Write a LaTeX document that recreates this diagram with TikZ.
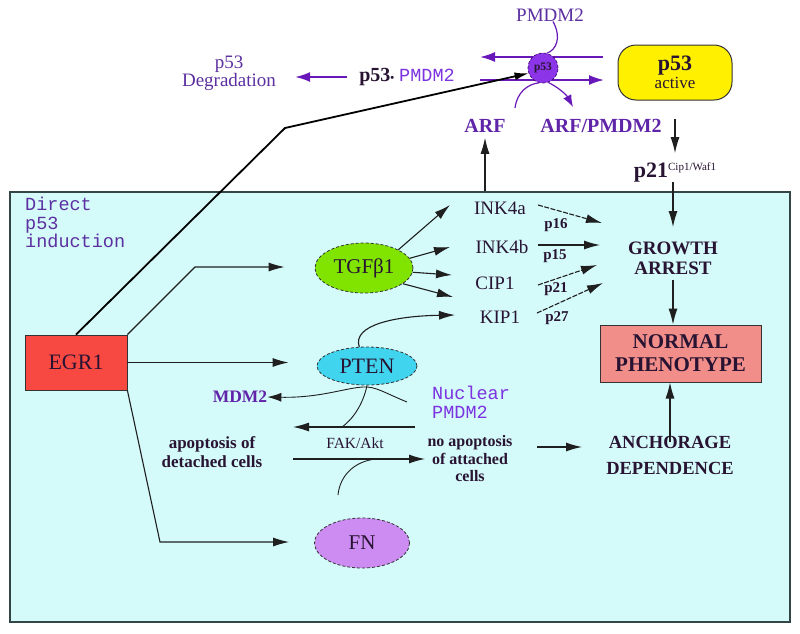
\documentclass[tikz,border=0pt]{standalone}
\usepackage{fontspec}
\setmainfont{Liberation Serif}
\setmonofont{Liberation Mono}
\usetikzlibrary{arrows.meta,shapes.geometric}
\definecolor{boxfill}{RGB}{212,250,250}
\definecolor{boxline}{RGB}{50,70,70}
\definecolor{egrred}{RGB}{248,72,66}
\definecolor{tgfgreen}{RGB}{128,228,0}
\definecolor{ptencyan}{RGB}{64,212,238}
\definecolor{fnviolet}{RGB}{204,140,242}
\definecolor{normalpink}{RGB}{242,142,138}
\definecolor{activeyellow}{RGB}{255,240,0}
\definecolor{txtpurple}{RGB}{92,48,160}
\definecolor{vivid}{RGB}{124,52,224}
\definecolor{boldpurple}{RGB}{96,36,168}
\definecolor{lnpurple}{RGB}{104,24,184}
\definecolor{circfill}{RGB}{140,52,232}
\definecolor{darkink}{RGB}{40,20,50}
\newcommand\fsz[2]{\fontsize{#1pt}{#2pt}\selectfont}
\begin{document}
\begin{tikzpicture}[x=1pt,y=-1pt,
  ln/.style={draw=black!88,line width=1.1pt},
  arr/.style={ln,-{Latex[length=16pt,width=9pt]}},
  darr/.style={arr,dash pattern=on 5pt off 1.5pt},
  parr/.style={draw=lnpurple,line width=1.7pt,-{Latex[length=15pt,width=10pt]}},
  pln/.style={draw=lnpurple,line width=1.2pt},
  lbl/.style={inner sep=0pt,align=center,text=darkink},
  ell/.style={ellipse,draw=black!80,line width=0.8pt,densely dashed,inner sep=0pt,text=darkink},
]
\useasboundingbox (0,0) rectangle (800,633);
\fill[white] (0,0) rectangle (800,633);
% main box
\node[draw=boxline,line width=1.4pt,fill=boxfill,minimum width=780pt,minimum height=430pt,inner sep=0pt] (box) at (400,407) {};
\node[lbl,anchor=north west,align=left,text=txtpurple,font={\ttfamily\fsz{18.5}{18.5}}] (direct) at (25,197) {Direct\\p53\\induction};

% main nodes
\node[draw=black!80,line width=0.8pt,fill=egrred,minimum width=102pt,minimum height=55pt,font=\fsz{22}{24},text=darkink] (egr) at (76,362.5) {EGR1};
\node[ell,fill=tgfgreen,minimum width=98pt,minimum height=50pt,font=\fsz{21}{23}] (tgf) at (364,268) {TGFβ1};
\node[ell,fill=ptencyan,minimum width=100pt,minimum height=38pt,font=\fsz{22}{24}] (pten) at (367,366) {PTEN};
\node[ell,fill=fnviolet,minimum width=95pt,minimum height=50pt,font=\fsz{21}{23}] (fn) at (362,543) {FN};

\node[lbl,font=\fsz{19}{21}] (ink4a) at (500,208) {INK4a};
\node[lbl,font=\fsz{19}{21}] (ink4b) at (502,247) {INK4b};
\node[lbl,font=\fsz{19}{21}] (cip1) at (495,283) {CIP1};
\node[lbl,font=\fsz{19}{21}] (kip1) at (500,317) {KIP1};
\node[lbl,font={\bfseries\fsz{15}{16}}] (p16) at (556,225) {p16};
\node[lbl,font={\bfseries\fsz{15}{16}}] (p15) at (555,256) {p15};
\node[lbl,font={\bfseries\fsz{15}{16}}] (p21s) at (556,289) {p21};
\node[lbl,font={\bfseries\fsz{15}{16}}] (p27) at (557,318) {p27};

\node[lbl,font={\bfseries\fsz{19}{20}}] (growth) at (673,258) {GROWTH\\ARREST};
\node[draw=black!80,line width=1pt,fill=normalpink,minimum width=161pt,minimum height=57pt,align=center,font={\bfseries\fsz{21}{23}},text=darkink] (normal) at (680.5,353.5) {NORMAL\\PHENOTYPE};
\node[lbl,font={\bfseries\fsz{18.5}{26}}] (anch) at (670,455) {ANCHORAGE\\DEPENDENCE};

\node[lbl,text=boldpurple,font={\bfseries\fsz{17.5}{19}}] (mdm2) at (240,397) {MDM2};
\node[lbl,anchor=west,align=left,text=vivid,font={\ttfamily\fsz{18.5}{19}}] (nuc) at (432,402.5) {Nuclear\\PMDM2};
\node[lbl,font={\bfseries\fsz{17}{19}}] (apopdet) at (212,452) {apoptosis of\\detached cells};
\node[lbl,font={\bfseries\fsz{16}{17.5}}] (noapop) at (470,459) {no apoptosis\\of attached\\cells};
\node[lbl,font=\fsz{15.5}{17}] (fak) at (355,443) {FAK/Akt};

% top nodes
\node[lbl,text=txtpurple,font=\fsz{19}{17}] (degr) at (229,73) {p53\\Degradation};
\node[lbl,font=\fsz{20}{22}] (p53pm) at (407,77) {{\color{darkink}\bfseries p53{\fsz{11}{11}•}}\hspace{5pt}{\color{vivid}\ttfamily\fsz{18.5}{20}PMDM2}};
\node[lbl,text=txtpurple,font=\fsz{19}{21}] (pmdmtop) at (550,15) {PMDM2};
\node[lbl,text=boldpurple,font={\bfseries\fsz{20}{22}}] (arf) at (485,126) {ARF};
\node[lbl,text=boldpurple,font={\bfseries\fsz{20}{22}}] (arfp) at (601,126) {ARF/PMDM2};
\node[draw=black!80,line width=1pt,fill=activeyellow,rounded corners=18pt,minimum width=114pt,minimum height=55pt,align=center,text=darkink,font=\fsz{17}{18}] (act) at (675,72.5) {{\bfseries\fsz{22}{20}p53}\\active};
\node[lbl] (p21) at (675,172) {{\bfseries\fsz{22}{24}p21}{\fsz{11}{12}\raisebox{7pt}{Cip1/Waf1}}};

% coordinates
\coordinate (uA) at (603,57);
\coordinate (uB) at (480,57);
\coordinate (lA) at (480,80);
\coordinate (lB) at (604,80);
\coordinate (bend) at (285,128);
\coordinate (arfc) at (515,108);
\coordinate (arfend) at (573,107);
\coordinate (c1) at (195,267);
\coordinate (c3) at (160,542);
\coordinate (t1) at (450,205);
\coordinate (t2) at (450,247);
\coordinate (t3) at (452,275);
\coordinate (t4) at (453,297);
\coordinate (k1) at (455,315);
\coordinate (gA1) at (538,205);
\coordinate (gA2) at (602,223);
\coordinate (gB1) at (538,245);
\coordinate (gB2) at (600,245);
\coordinate (gC1) at (538,285);
\coordinate (gC2) at (597,265);
\coordinate (gD1) at (537,313);
\coordinate (gD2) at (603,283);
\coordinate (gtop) at (673,227);
\coordinate (hump) at (363,387);
\coordinate (mA) at (407,402);
\coordinate (fkA) at (415,427);
\coordinate (fkB) at (293,427);
\coordinate (fkJ) at (342,427);
\coordinate (akA) at (293,459);
\coordinate (akB) at (425,459);
\coordinate (akJ) at (376,459);
\coordinate (fnc) at (338,495);
\coordinate (na1) at (537,447);
\coordinate (na2) at (582,447);

% top purple lines, then circle
\draw[parr] (uA) -- (uB);
\draw[parr] (lA) -- (lB);
\node[circle,fill=circfill,draw=lnpurple!60!black,densely dashed,line width=0.7pt,minimum size=30pt,inner sep=0pt,font={\bfseries\fsz{11.5}{11.5}},text=darkink] (p53c) at (543,68) {p53};
\draw[pln] ([xshift=3pt]pmdmtop.south) .. controls (562,38) and (556,50) .. (p53c.75);
\draw[pln] (arfc) .. controls (517,92) and (528,84) .. (p53c.255);
\draw[pln,-{Latex[length=12pt,width=9pt]}] (p53c.290) .. controls (556,86) and (566,94) .. (arfend);
\draw[parr,shorten <=12pt,shorten >=19pt] (p53pm.west) -- (p53pm.west -| degr.east);
\draw[black,line width=1.8pt,-{Latex[length=14pt,width=8pt]}] (egr.north) -- (bend) -- (p53c.200);
\draw[arr,shorten <=18pt,shorten >=9pt] (act.south) -- (act.south |- p21.north);
\draw[arr] (p21.south -| gtop) -- (gtop);
\draw[arr,shorten >=5pt] (box.north -| arf.south) -- (arf.south);

% EGR1 connectors
\draw[arr] (egr.north east) -- (c1) -- ([xshift=-30pt]c1 -| tgf.west);
\draw[arr,shorten >=28pt] (egr.east) -- (egr.east -| pten.west);
\draw[arr,shorten >=25pt] (egr.south east) -- (c3) -- (c3 -| fn.west);

% TGF to inhibitors
\draw[arr] (tgf.28) -- (t1);
\draw[arr] (tgf.12) -- (t2);
\draw[arr] (tgf.-5) -- (t3);
\draw[arr] (tgf.-22) -- (t4);
\draw[arr] (pten.112) .. controls (352,325) and (395,316) .. (k1);

% inhibitors to growth arrest
\draw[darr] (gA1) -- (gA2);
\draw[arr] (gB1) -- (gB2);
\draw[darr] (gC1) -- (gC2);
\draw[darr] (gD1) -- (gD2);

\draw[arr,shorten <=5pt] (growth.south) -- (growth.south |- normal.north);
\draw[arr,shorten <=-6pt] (anch.north) -- (anch.north |- normal.south);

% PTEN / MDM2 / FAK region
\draw[ln,line width=0.9pt,-{Latex[length=14pt,width=9pt]}] (mA) .. controls (385,393) and (375,386) .. (hump) .. controls (345,388) and (320,398) .. (mdm2.east) ;
\draw[ln,line width=0.9pt] (pten.south) .. controls (363,405) and (352,420) .. (fkJ);
\draw[arr] (fkA) -- (fkB);
\draw[arr] (akA) -- (akB);
\draw[ln,line width=0.9pt] (fnc) .. controls (340,475) and (355,461) .. (akJ);
\draw[arr] (na1) -- (na2);
\end{tikzpicture}
\end{document}
